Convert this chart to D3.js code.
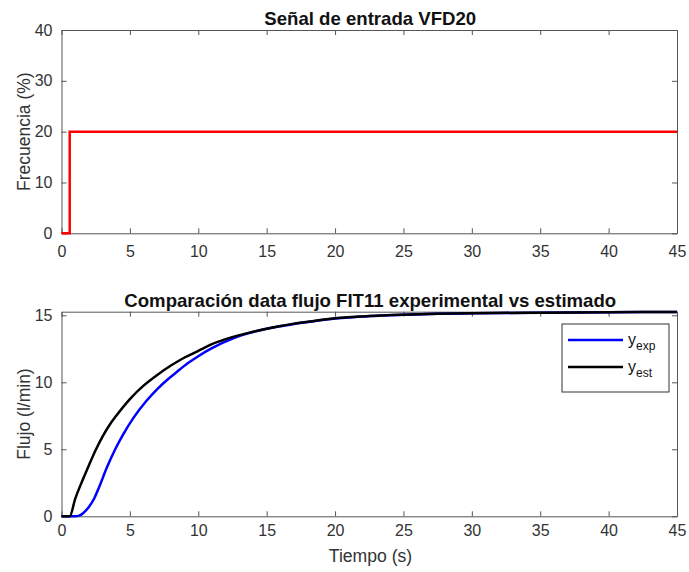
<!DOCTYPE html>
<html>
<head>
<meta charset="utf-8">
<script src="https://cdn.jsdelivr.net/npm/d3@7"></script>
<style>
  body { margin: 0; background: #fff; }
  svg { display: block; font-family: "Liberation Sans", Arial, sans-serif; }
  .tick text { fill: #333; font-size: 16px; }
</style>
</head>
<body>
<svg id="chart" width="689" height="572"></svg>
<script>
// Input signal VFD20 (step)
const inTime = [0, 0.6, 0.6, 45];
const inFreq = [0, 0, 20, 20];

// Flow FIT11 experimental
const expTime = [0, 1.0, 1.3, 1.6, 2.0, 2.4, 2.8, 3.3, 3.9, 4.5, 5.3, 6.2, 7.0, 7.8, 8.4, 9.2, 10.0, 11.0, 12.6, 14.0, 15.0, 16.0, 17.0, 18.0, 20.0, 22.5, 25.0, 27.5, 30.0, 35.0, 40.0, 45.0];
const expFlow = [0, 0, 0.05, 0.25, 0.7, 1.35, 2.3, 3.6, 4.95, 6.1, 7.4, 8.6, 9.5, 10.25, 10.75, 11.4, 11.95, 12.55, 13.3, 13.75, 14.0, 14.18, 14.36, 14.5, 14.76, 14.94, 15.04, 15.11, 15.15, 15.2, 15.23, 15.25];

// Flow FIT11 estimated
const estTime = [0, 0.6, 1.0, 1.5, 2.0, 2.5, 3.0, 3.5, 4.0, 5.0, 6.0, 7.0, 8.0, 9.0, 10.0, 11.0, 12.0, 13.0, 14.0, 15.0, 16.0, 17.0, 18.0, 20.0, 22.5, 25.0, 27.5, 30.0, 35.0, 40.0, 45.0];
const estFlow = [0, 0, 1.3, 2.6, 3.8, 4.95, 5.95, 6.8, 7.5, 8.75, 9.75, 10.55, 11.25, 11.85, 12.35, 12.85, 13.22, 13.52, 13.77, 14.0, 14.2, 14.38, 14.52, 14.78, 14.95, 15.05, 15.12, 15.16, 15.2, 15.23, 15.25];

const xTicks = [0, 5, 10, 15, 20, 25, 30, 35, 40, 45];
const topYTicks = [0, 10, 20, 30, 40];
const botYTicks = [0, 5, 10, 15];

const svg = d3.select('#chart');
const left = 61.5, right = 677;

function panel(top, bottom, yDomain, yTicks, title, ylabel, xPad) {
    const x = d3.scaleLinear().domain([0, 45]).range([left, right]);
    const y = d3.scaleLinear().domain(yDomain).range([bottom, top]);
    const g = svg.append('g');
    const axisColor = '#555';

    // box with inward ticks on all sides
    g.append('g').attr('transform', `translate(0,${bottom})`)
        .call(d3.axisBottom(x).tickValues(xTicks).tickSizeInner(-5).tickSizeOuter(0).tickPadding(xPad));
    g.append('g').attr('transform', `translate(0,${top})`)
        .call(d3.axisTop(x).tickValues(xTicks).tickSizeInner(-5).tickSizeOuter(0).tickFormat(''));
    g.append('g').attr('transform', `translate(${left},0)`)
        .call(d3.axisLeft(y).tickValues(yTicks).tickSizeInner(-5).tickSizeOuter(0).tickPadding(9));
    g.append('g').attr('transform', `translate(${right},0)`)
        .call(d3.axisRight(y).tickValues(yTicks).tickSizeInner(-5).tickSizeOuter(0).tickFormat(''));
    g.selectAll('.domain, .tick line').attr('stroke', axisColor);

    g.append('text')
        .attr('x', (left + right) / 2 + 1).attr('y', top - 5)
        .attr('text-anchor', 'middle')
        .attr('font-size', 18.6).attr('font-weight', 'bold').attr('fill', '#111')
        .text(title);

    g.append('text')
        .attr('transform', `translate(30,${(top + bottom) / 2}) rotate(-90)`)
        .attr('text-anchor', 'middle')
        .attr('font-size', 17.5).attr('fill', '#333')
        .text(ylabel);

    return {x, y, g};
}

// Top panel
const p1 = panel(30, 233.3, [0, 40], topYTicks, 'Señal de entrada VFD20', 'Frecuencia (%)', 12);
const line1 = d3.line().x(i => p1.x(inTime[i])).y(i => p1.y(inFreq[i]));
p1.g.append('path')
    .attr('d', line1(d3.range(inTime.length)))
    .attr('fill', 'none').attr('stroke', '#ff0000').attr('stroke-width', 2.5);

// Bottom panel
const p2 = panel(311.7, 516.3, [0, 15.27], botYTicks, 'Comparación data flujo FIT11 experimental vs estimado', 'Flujo (l/min)', 8);
const lineExp = d3.line().curve(d3.curveMonotoneX).x(i => p2.x(expTime[i])).y(i => p2.y(expFlow[i]));
const lineEst = d3.line().curve(d3.curveMonotoneX).x(i => p2.x(estTime[i])).y(i => p2.y(estFlow[i]));
p2.g.append('path')
    .attr('d', lineExp(d3.range(expTime.length)))
    .attr('fill', 'none').attr('stroke', '#0000ff').attr('stroke-width', 2.5);
p2.g.append('path')
    .attr('d', lineEst(d3.range(estTime.length)))
    .attr('fill', 'none').attr('stroke', '#000').attr('stroke-width', 2.5);

svg.append('text')
    .attr('x', 370.5).attr('y', 562)
    .attr('text-anchor', 'middle')
    .attr('font-size', 17.6).attr('fill', '#333')
    .text('Tiempo (s)');

// Legend
const legend = svg.append('g').attr('transform', 'translate(562,324)');
legend.append('rect')
    .attr('width', 107).attr('height', 68)
    .attr('fill', '#fff').attr('stroke', '#333').attr('stroke-width', 1);
const entries = [
    {color: '#0000ff', sub: 'exp', y: 16},
    {color: '#000', sub: 'est', y: 43}
];
entries.forEach(e => {
    legend.append('line')
        .attr('x1', 6).attr('x2', 61).attr('y1', e.y).attr('y2', e.y)
        .attr('stroke', e.color).attr('stroke-width', 2.5);
    const t = legend.append('text')
        .attr('x', 66).attr('y', e.y + 5)
        .attr('font-size', 16).attr('fill', '#111');
    t.append('tspan').text('y');
    t.append('tspan').attr('font-size', 12).attr('dy', 5).text(e.sub);
});
</script>
</body>
</html>
